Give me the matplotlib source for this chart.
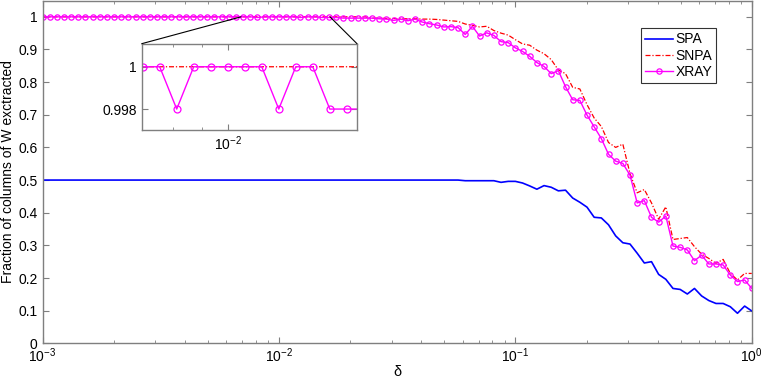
import numpy as np
import matplotlib
matplotlib.use("Agg")
import matplotlib.pyplot as plt
from matplotlib.patches import ConnectionPatch

plt.rcParams['font.family'] = ['Liberation Sans', 'DejaVu Sans']
plt.rcParams['mathtext.default'] = 'regular'
plt.rcParams['mathtext.fontset'] = 'custom'
plt.rcParams['mathtext.rm'] = 'Liberation Sans'

# sampling grid: 100 log-spaced delta values between 1e-3 and 1
delta = np.logspace(-3, 0, 100)

spa = [0.5] * 59 + [0.498, 0.498, 0.498, 0.498, 0.498,
    0.493, 0.496, 0.496, 0.491, 0.482, 0.472, 0.483, 0.478, 0.467, 0.469,
    0.445, 0.432, 0.417, 0.386, 0.384, 0.363, 0.329, 0.308, 0.304, 0.276,
    0.246, 0.250, 0.211, 0.196, 0.168, 0.165, 0.151, 0.168, 0.145, 0.131,
    0.122, 0.122, 0.112, 0.092, 0.114, 0.099]

snpa = [1.0] * 46 + [0.996, 0.996, 0.995, 0.995, 0.994,
    0.994, 0.994, 0.993, 0.993, 0.992, 0.990, 0.988, 0.986, 0.978, 0.974,
    0.969, 0.971, 0.958, 0.950, 0.944, 0.930, 0.917, 0.913, 0.898, 0.887,
    0.869, 0.837, 0.826, 0.784, 0.779, 0.731, 0.690, 0.664, 0.615, 0.600,
    0.610, 0.520, 0.461, 0.471, 0.430, 0.380, 0.418, 0.318, 0.321, 0.324,
    0.296, 0.273, 0.260, 0.245, 0.257, 0.214, 0.194, 0.214, 0.214]

xray = [1.0] * 28 + [1.0, 1.0, 0.998, 1.0, 1.0, 1.0, 1.0, 1.0, 0.998, 1.0,
    1.0, 0.998, 0.998, 0.998, 0.996, 0.996, 0.996,
    0.996, 0.996, 0.994, 0.993, 0.989, 0.993, 0.988, 0.993, 0.984, 0.979,
    0.975, 0.969, 0.970, 0.967, 0.946, 0.971, 0.941, 0.951, 0.943, 0.924,
    0.921, 0.905, 0.894, 0.879, 0.860, 0.848, 0.826, 0.835, 0.786, 0.746,
    0.744, 0.699, 0.663, 0.627, 0.579, 0.558, 0.551, 0.515, 0.430, 0.437,
    0.386, 0.371, 0.390, 0.298, 0.294, 0.286, 0.253, 0.270, 0.243, 0.243,
    0.240, 0.209, 0.189, 0.194, 0.168]

labels = ['SPA', 'SNPA', 'XRAY']
yticks = [0, 0.1, 0.2, 0.3, 0.4, 0.5, 0.6, 0.7, 0.8, 0.9, 1]
inset_yticks = [0.998, 1.0]

W, H = 763, 382
fig = plt.figure(figsize=(W / 100, H / 100), dpi=100)
ax = fig.add_axes([42.5 / W, 1 - 343.3 / H, (751.8 - 42.5) / W, (343.3 - 0.5) / H])

frame = '#7f7f7f'

def style(a):
    for s in a.spines.values():
        s.set_color(frame)
        s.set_linewidth(1.0)
    a.tick_params(which='both', direction='in', top=True, right=True,
                  colors=frame, labelcolor='black', labelsize=10)
    a.tick_params(which='major', length=4, width=0.8)
    a.tick_params(which='minor', length=2.5, width=0.6)

def draw(a, ms):
    a.plot(delta, spa, color='#0000ff', lw=1.2, label=labels[0])
    a.plot(delta, snpa, color='#ff0000', lw=0.9, ls='-.', label=labels[1],
           dashes=(4, 1.5, 1, 1.5))
    a.plot(delta, xray, color='#ff00ff', lw=1.0, marker='o', ms=ms,
           mfc='none', mec='#ff00ff', mew=0.9, label=labels[2])

draw(ax, 3.8)
ax.set_xscale('log')
ax.set_xlim(1e-3, 1)
ax.set_ylim(0, 1.05)
ax.set_yticks(yticks)
ax.set_yticklabels([('%g' % v) for v in yticks])
style(ax)
ax.tick_params(axis='x', which='major', pad=2)
ax.set_xlabel('δ', fontsize=10.5, labelpad=0)
ax.set_ylabel('Fraction of columns of W exctracted', fontsize=10, labelpad=2)

leg = ax.legend(loc='upper left', bbox_to_anchor=(640.7 / W, 1 - 28.3 / H),
                bbox_transform=fig.transFigure, fontsize=10, frameon=True,
                fancybox=False, shadow=False, handlelength=2.0,
                borderpad=0.3, labelspacing=0.15, handletextpad=0.2,
                borderaxespad=0)
leg.get_frame().set_edgecolor('black')
leg.get_frame().set_linewidth(0.8)

# inset
ix0, ix1 = 10 ** -2.1533, 10 ** -1.7697
iy0, iy1 = 0.99701, 1.00109
axin = fig.add_axes([141.7 / W, 1 - 130 / H, (357 - 141.7) / W, (130 - 43.7) / H])
draw(axin, 5)
axin.set_xscale('log')
axin.set_xlim(ix0, ix1)
axin.set_ylim(iy0, iy1)
axin.set_yticks(inset_yticks)
axin.set_yticklabels(['0.998', '1'])
style(axin)
axin.set_xticks([1e-2])
axin.xaxis.set_minor_formatter(matplotlib.ticker.NullFormatter())

for xa, xb in [(10 ** -2.1603, 0.0), (10 ** -1.784, 1.0)]:
    con = ConnectionPatch(xyA=(xa, 1.0), coordsA=ax.transData,
                          xyB=(xb, 1.0), coordsB=axin.transAxes,
                          color='black', lw=0.8)
    fig.add_artist(con)

fig.savefig('out.png', dpi=100)
